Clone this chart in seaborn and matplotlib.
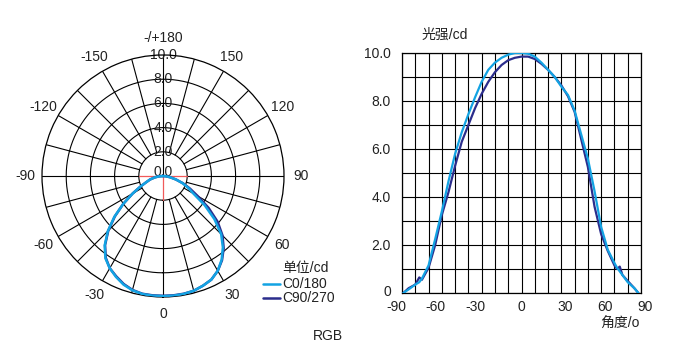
import numpy as np
import pandas as pd
import matplotlib
matplotlib.use("Agg")
import matplotlib.pyplot as plt
import seaborn as sns
from matplotlib.lines import Line2D
from matplotlib.transforms import ScaledTranslation

# curva cartesiana (angulo en grados, intensidad en cd)
angulos = [-89, -85, -80, -77, -75, -70, -65, -60, -55, -50, -45, -40, -35, -30, -25, -20, -15, -10, -5,
           0, 5, 10, 15, 20, 25, 30, 35, 40, 45, 50, 55, 60, 65, 70, 72, 74, 76, 80, 85, 88]
c0_180 = [0.0, 0.15, 0.35, 0.45, 0.6, 1.15, 2.25, 3.4, 4.65, 5.8, 6.7, 7.45, 8.15, 8.8, 9.3, 9.6, 9.8, 9.93, 10.0,
          10.0, 9.97, 9.85, 9.6, 9.3, 9.0, 8.6, 8.25, 7.6, 6.6, 5.6, 4.25, 2.75, 1.8, 1.25, 1.05, 0.9, 0.75, 0.45, 0.2, 0.0]
c90_270 = [0.0, 0.2, 0.35, 0.65, 0.55, 1.05, 2.0, 3.25, 4.2, 5.3, 6.3, 7.0, 7.7, 8.3, 8.8, 9.2, 9.5, 9.7, 9.8,
           9.85, 9.85, 9.75, 9.55, 9.3, 9.0, 8.65, 8.2, 7.55, 6.4, 5.25, 3.6, 2.45, 1.75, 1.15, 1.0, 1.1, 0.75, 0.5, 0.2, 0.0]

ang_polar = list(range(-90, 91, 5))
polar_c0 = [0.0, 0.35, 0.7, 1.1, 1.45, 2.05, 2.9, 4.0, 5.25, 6.45, 7.5, 8.3, 8.8, 9.2, 9.55, 9.78, 9.9, 9.93,
            9.93, 9.93, 9.9, 9.82, 9.65, 9.45, 9.05, 8.45, 7.7, 6.8, 5.55, 4.2, 2.9, 2.3, 1.7, 1.1, 0.6, 0.25, 0.0]
polar_c90 = [0.0, 0.35, 0.7, 1.1, 1.45, 2.05, 2.9, 4.0, 5.2, 6.4, 7.45, 8.25, 8.8, 9.15, 9.5, 9.75, 9.88, 9.9,
             9.9, 9.9, 9.88, 9.82, 9.65, 9.45, 9.05, 8.5, 7.8, 6.95, 5.9, 4.6, 3.3, 2.45, 1.75, 1.1, 0.6, 0.25, 0.0]

series = ["C0/180", "C90/270"]
colores = {"C0/180": "#13a3e3", "C90/270": "#2b2d8c"}

r_ticks = [0, 2, 4, 6, 8, 10]
r_labels = ["0.0", "2.0", "4.0", "6.0", "8.0", "10.0"]
ang_ticks = [0, 30, 60, 90, 120, 150, 180, -150, -120, -90, -60, -30]
ang_labels = ["0", "30", "60", "90", "120", "150", "-/+180", "-150", "-120", "-90", "-60", "-30"]
x_ticks = [-90, -60, -30, 0, 30, 60, 90]
y_labels = ["0", "2.0", "4.0", "6.0", "8.0", "10.0"]

df = pd.DataFrame({"ang": angulos * 2,
                   "cd": c0_180 + c90_270,
                   "serie": [series[0]] * len(angulos) + [series[1]] * len(angulos)})
dfp = pd.DataFrame({"ang": ang_polar * 2,
                    "cd": polar_c0 + polar_c90,
                    "serie": [series[0]] * len(ang_polar) + [series[1]] * len(ang_polar)})
dfp["theta"] = np.deg2rad(dfp["ang"])
orden = ["C90/270", "C0/180"]  # la azul clara queda encima

sns.set_style("white")
plt.rcParams["font.family"] = ["Liberation Sans", "Noto Sans CJK SC", "DejaVu Sans"]
plt.rcParams["font.size"] = 10

fig = plt.figure(figsize=(6.81, 3.55), dpi=100)
W, H = 681, 355

# ---------------- grafico polar ----------------
cx, cy, R = 163, 176, 121
pax = fig.add_axes([(cx - R) / W, (H - cy - R) / H, 2 * R / W, 2 * R / H], projection="polar")
pax.set_theta_zero_location("S")
pax.set_theta_direction(1)
pax.set_ylim(0, 10)
pax.set_xticks([])
pax.set_yticks([])
pax.grid(False)
pax.spines["polar"].set_linewidth(0.9)
pax.spines["polar"].set_color("black")

t = np.linspace(0, 2 * np.pi, 361)
for r in [2, 4, 6, 8]:
    pax.plot(t, [r] * len(t), color="black", lw=0.8, zorder=1)
for a in range(0, 360, 15):
    th = np.deg2rad(a)
    if a == 180:
        pax.plot([th, th], [0, 10], color="black", lw=0.8, zorder=1)
    else:
        pax.plot([th, th], [2, 10], color="black", lw=0.8, zorder=1)
for a in [0, 90, -90]:
    th = np.deg2rad(a)
    pax.plot([th, th], [0, 2], color="#f05a5a", lw=0.9, zorder=1)

sns.lineplot(data=dfp, x="theta", y="cd", hue="serie", hue_order=orden, palette=colores, sort=False,
             estimator=None, lw=1.8, ax=pax, legend=False, zorder=3)
pax.set_xlabel("")
pax.set_ylabel("")

for r, lab in zip(r_ticks, r_labels):
    pax.text(np.pi, r + (0.3 if r == 0 else 0), lab, ha="center", va="center", fontsize=10,
             color="#222222", zorder=2)
for a, lab in zip(ang_ticks, ang_labels):
    pax.text(np.deg2rad(a), 11.4, lab, ha="center", va="center", fontsize=10,
             color="#222222", clip_on=False)

# leyenda
fig.text(282 / W, 1 - 268 / H, "单位/cd", ha="left", va="center", fontsize=10, color="#222222")
for i, s in enumerate(series):
    yy = 1 - (284 + 14 * i) / H
    fig.add_artist(Line2D([263 / W, 280 / W], [yy, yy], color=colores[s], lw=1.8))
    fig.text(282 / W, yy, s, ha="left", va="center", fontsize=10, color="#222222")
fig.text(328 / W, 1 - 336 / H, "RGB", ha="center", va="center", fontsize=10, color="#222222")

# ---------------- grafico cartesiano ----------------
ax = fig.add_axes([402 / W, (H - 293) / H, 239 / W, 240 / H])
sns.lineplot(data=df, x="ang", y="cd", hue="serie", hue_order=orden, palette=colores, sort=False,
             estimator=None, lw=1.6, ax=ax, legend=False, zorder=3)
ax.set_xlim(-90, 90)
ax.set_ylim(0, 10)
ax.set_xticks(range(-90, 91, 10))
xl = ax.set_xticklabels([str(v) if v in x_ticks else "" for v in range(-90, 91, 10)])
ax.set_yticks(range(0, 11))
yl = ax.set_yticklabels([y_labels[v // 2] if v % 2 == 0 else "" for v in range(0, 11)])
ax.grid(True, color="black", lw=0.8)
ax.tick_params(axis="x", length=0, labelsize=10, labelcolor="#222222", pad=5)
ax.tick_params(axis="y", length=0, labelsize=10, labelcolor="#222222", pad=8)
for sp in ax.spines.values():
    sp.set_color("black")
    sp.set_linewidth(0.9)
ax.set_xlabel("")
ax.set_ylabel("")

# pequenos desplazamientos de las etiquetas como en la figura original
for lab in xl:
    txt = lab.get_text()
    if txt.startswith("-"):
        lab.set_transform(lab.get_transform() + ScaledTranslation(-0.06, 0, fig.dpi_scale_trans))
    elif txt not in ("", "0"):
        lab.set_transform(lab.get_transform() + ScaledTranslation(0.04, 0, fig.dpi_scale_trans))
yl[0].set_transform(yl[0].get_transform() + ScaledTranslation(0, 0.03, fig.dpi_scale_trans))

fig.text(445 / W, 1 - 35 / H, "光强/cd", ha="center", va="center", fontsize=10, color="#222222")
fig.text(620 / W, 1 - 324 / H, "角度/o", ha="center", va="center", fontsize=10, color="#222222")

fig.savefig("out.png", dpi=100)
